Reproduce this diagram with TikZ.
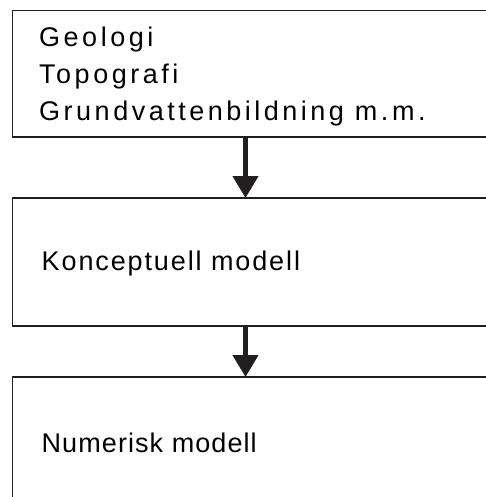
\documentclass[tikz,border=0pt]{standalone}
\usepackage{fontspec}
\newfontfamily\labfont{Liberation Sans}[LetterSpace=13]
\newfontfamily\labfontb{Liberation Sans}[LetterSpace=7]
\newfontfamily\labfontc{Liberation Sans}[LetterSpace=4]
\usetikzlibrary{arrows.meta}
\definecolor{ink}{HTML}{231F20}
\begin{document}
\begin{tikzpicture}[x=1pt,y=-1pt,
  box/.style={draw=ink,line width=1.5pt,rectangle,inner sep=0pt,outer sep=0pt,anchor=north west},
  lbl/.style={anchor=base west,inner sep=0pt,font=\labfont\fontsize{27}{27}\selectfont,text=black},
  flow/.style={draw=ink,line width=4.5pt,-{Triangle[width=25pt,length=22pt]}}]
\clip (0,0) rectangle (486,497);
\node[box,minimum width=490pt,minimum height=126.5pt] (b1) at (12.5,10.5) {};
\node[box,minimum width=490pt,minimum height=128pt] (b2) at (12.5,198) {};
\node[box,minimum width=490pt,minimum height=140pt] (b3) at (12.5,377) {};
\node[lbl] (t1) at (39,47) {Geologi};
\node[lbl] (t2) at (39,84) {Topografi};
\node[lbl] (t3) at (39,121) {Grundvattenbildning m.m.};
\node[lbl,font=\labfontb\fontsize{27}{27}\selectfont] (t4) at (41.5,270) {Konceptuell modell};
\node[lbl,font=\labfontc\fontsize{27}{27}\selectfont] (t5) at (41.5,452) {Numerisk modell};
\coordinate (ax) at (245.5,0);
\draw[flow] (b1.south -| ax) -- (b2.north -| ax);
\draw[flow] (b2.south -| ax) -- (b3.north -| ax);
\end{tikzpicture}
\end{document}
